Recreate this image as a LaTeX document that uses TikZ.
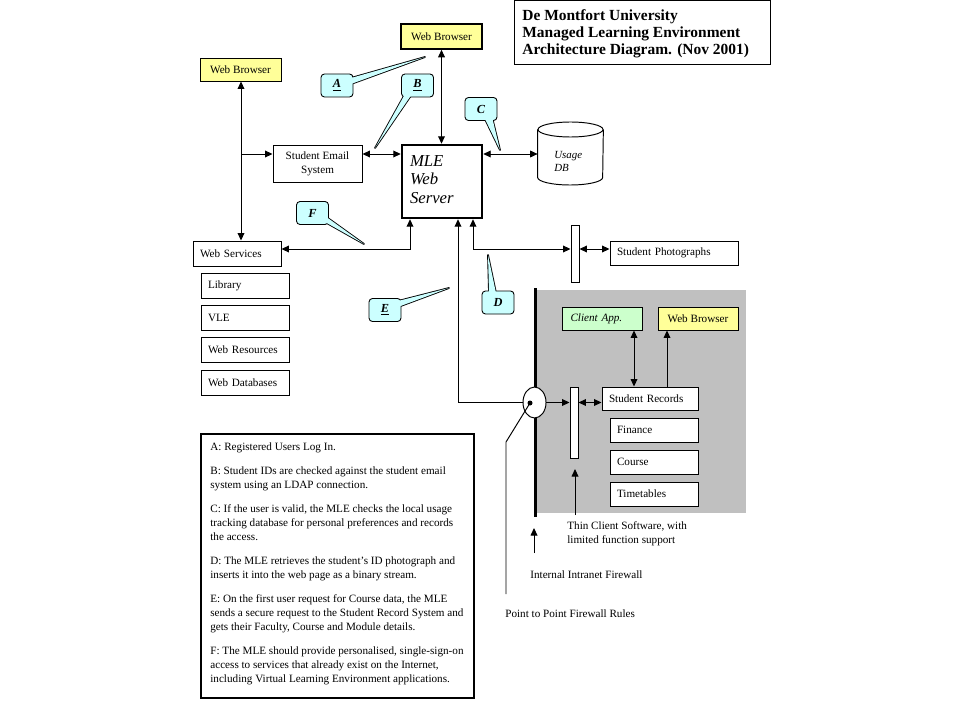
\documentclass[tikz,border=0pt]{standalone}
\usepackage{fontspec}
\setmainfont{Liberation Serif}
\usetikzlibrary{arrows.meta,shapes.geometric}
\definecolor{wbyellow}{HTML}{FFFF99}
\definecolor{callcyan}{HTML}{CCFFFF}
\definecolor{appgreen}{HTML}{CCFFCC}
\definecolor{graybg}{HTML}{C0C0C0}
\begin{document}
\begin{tikzpicture}[x=0.2mm,y=-0.2mm,
  >={Triangle[length=1.5mm,width=1.35mm]},
  every node/.style={font=\fontsize{6.35}{7.9}\selectfont},
  conn/.style={line width=0.55pt},
  box/.style={draw, line width=0.55pt, fill=white, inner sep=0pt, align=center},
  lbox/.style={box, align=left, inner xsep=1.4mm},
  browser/.style={box, fill=wbyellow, minimum width=16.2mm},
  callout/.style={draw, line width=0.5pt, fill=callcyan, rounded corners=0.7mm,
     minimum width=6.4mm, minimum height=4.6mm, inner sep=0pt,
     font=\fontsize{7}{8}\selectfont\bfseries\itshape},
  tailline/.style={draw, line width=1pt, line join=round},
  tailfill/.style={fill=callcyan},
  plain/.style={inner sep=0pt, anchor=west, align=left}
]
\useasboundingbox (0,0) rectangle (960,720);
\fill[white] (0,0) rectangle (960,720);

% ---------- title ----------
\node[draw, line width=0.55pt, minimum width=51.2mm, minimum height=12.8mm, inner sep=0pt]
  (title) at (642,32.5) {};
\node[plain, font=\fontsize{8.8}{9.7}\selectfont\bfseries] (titletext) at (522,33.5)
  {De Montfort University\\Managed Learning Environment\\Architecture Diagram. (Nov 2001)};

% ---------- gray intranet area ----------
\fill[graybg] (537,290) rectangle (746,513);

% ---------- main boxes ----------
\node[browser, line width=0.9pt, minimum height=5mm] (wbTop) at (441.5,36.5) {Web Browser};
\node[browser, minimum height=4.6mm] (wbLeft) at (240.5,69.5) {Web Browser};
\node[box, minimum width=17.8mm, minimum height=7.4mm] (email) at (317.5,163.5) {Student Email\\System};
\node[box, line width=1.4pt, minimum width=16mm, minimum height=14.6mm, text width=12.8mm,
  inner xsep=1.6mm, align=left, font=\fontsize{9.5}{10.6}\selectfont\itshape]
  (mle) at (442,181.5) {MLE\\Web\\Server\vspace{0.8mm}};

% Usage DB cylinder
\node[minimum width=13mm, minimum height=12.6mm, inner sep=0pt] (db) at (570.5,153.5) {};
\draw[line width=0.55pt, fill=white] (db.west |- 0,129.5) -- (db.west |- 0,177.5)
   arc[start angle=180, end angle=360, x radius=6.5mm, y radius=1.5mm] -- (db.east |- 0,129.5);
\draw[line width=0.55pt, fill=white] (db.north |- 0,129.5) ellipse [x radius=6.5mm, y radius=1.5mm];
\node[plain, font=\fontsize{6.2}{7.4}\selectfont\itshape] (dbtext) at (554,161) {Usage\\DB};

% web services column
\node[lbox, minimum width=17.6mm, minimum height=5mm, text width=14.8mm] (wserv) at (237,253.5) {Web Services};
\node[lbox, minimum width=17.6mm, minimum height=5mm, text width=14.8mm] (lib) at (245,285.5) {Library};
\node[lbox, minimum width=17.6mm, minimum height=5mm, text width=14.8mm] (vle) at (245,318) {VLE};
\node[lbox, minimum width=17.6mm, minimum height=5mm, text width=14.8mm] (wres) at (245,350) {Web Resources};
\node[lbox, minimum width=17.6mm, minimum height=5mm, text width=14.8mm] (wdb) at (245,382.5) {Web Databases};

% photographs
\node[box, minimum width=1.6mm, minimum height=11.4mm] (pbar) at (575,253.5) {};
\node[lbox, minimum width=25.6mm, minimum height=4.8mm, text width=22.8mm] (photos) at (674,253) {Student Photographs};

% intranet side
\draw[line width=1.7pt] (535,288) -- (535,517);
\node[draw, ellipse, line width=0.55pt, fill=white, minimum width=4.6mm, minimum height=6.2mm, inner sep=0pt]
  (fw) at (534.5,402.5) {};
\fill (530,403) circle[radius=0.5mm];
\coordinate (dot) at (530,403);

\node[lbox, fill=appgreen, minimum width=16mm, minimum height=4.6mm, text width=12.6mm,
  inner xsep=1.7mm, font=\fontsize{6.35}{7.9}\selectfont\itshape] (client) at (602,318.5) {Client App.};
\node[browser, minimum height=4.6mm, minimum width=16mm] (wbIn) at (698,318.5) {Web Browser};
\node[lbox, minimum width=19.2mm, minimum height=4.6mm, text width=16.4mm] (srec) at (650,398.5) {Student Records};
\node[box, minimum width=1.6mm, minimum height=14.2mm] (rbar) at (574,422.5) {};
\node[lbox, minimum width=17.6mm, minimum height=4.8mm, text width=14.8mm] (fin) at (654,430) {Finance};
\node[lbox, minimum width=17.6mm, minimum height=4.8mm, text width=14.8mm] (crs) at (654,462) {Course};
\node[lbox, minimum width=17.6mm, minimum height=4.8mm, text width=14.8mm] (tt) at (654,494) {Timetables};

% ---------- connector coordinates ----------
\coordinate (rowA) at (0,154);
\coordinate (rowW) at (0,249);
\coordinate (xL) at (241,0);
\coordinate (xF) at (410,0);
\coordinate (xE) at (458,0);
\coordinate (xD) at (473,0);
\coordinate (xCA) at (634,0);
\coordinate (xWB) at (667,0);
\coordinate (tcA) at (575,515);
\coordinate (tcB) at (575,469);
\coordinate (ifA) at (534,553);
\coordinate (ifB) at (534,528);
\coordinate (p2pA) at (506,442);
\coordinate (p2pB) at (506,594);

% ---------- connectors ----------
\draw[conn,<->] (wbTop.south) -- (wbTop.south |- mle.north);
\draw[conn,<->] (xL |- wbLeft.south) -- (xL |- wserv.north);
\draw[conn,->] (xL |- rowA) -- (email.west |- rowA);
\draw[conn,<->] (email.east |- rowA) -- (mle.west |- rowA);
\draw[conn,<->] (mle.east |- rowA) -- (db.west |- rowA);
\draw[conn,<->] (xF |- mle.south) |- (wserv.east |- rowW);
\draw[conn,->] (fw.west) -| (xE |- mle.south);
\draw[conn,<->] (xD |- mle.south) |- (pbar.west |- rowW);
\draw[conn,<->] (pbar.east |- rowW) -- (photos.west |- rowW);
\draw[conn,->] (fw.east) -- (rbar.west |- fw.east);
\draw[conn,<->] (rbar.east |- fw.east) -- (srec.west |- fw.east);
\draw[conn,<->] (xCA |- client.south) -- (xCA |- srec.north);
\draw[conn,->] (xWB |- srec.north) -- (xWB |- wbIn.south);
\draw[conn,->] (tcA) -- (tcB);
\draw[conn,->] (ifA) -- (ifB);
\draw[conn] (dot) -- (p2pA) -- (p2pB);

% ---------- labels ----------
\node[plain] (tclabel) at (567,534) {Thin Client Software, with\\limited function support};
\node[plain] (iflabel) at (530,575) {Internal Intranet Firewall};
\node[plain] (p2plabel) at (505,614) {Point to Point Firewall Rules};

% ---------- callouts ----------
\path[tailline] (351,78) -- (425,57) -- (351,84) -- cycle;
\node[callout] (cA) at (337,85.5) {\underline{A}};
\path[tailfill] (351,78) -- (425,57) -- (351,84) -- cycle;

\path[tailline] (405,94) -- (375,148) -- (412,94) -- cycle;
\node[callout] (cB) at (417.5,85.5) {\underline{B}};
\path[tailfill] (405,94) -- (375,148) -- (412,94) -- cycle;

\path[tailline] (484,117) -- (500,150) -- (492,117) -- cycle;
\node[callout] (cC) at (481,109) {C};
\path[tailfill] (484,117) -- (500,150) -- (492,117) -- cycle;

\path[tailline] (489,293) -- (488,255) -- (496,293) -- cycle;
\node[callout] (cD) at (498,302.5) {D};
\path[tailfill] (489,293) -- (488,255) -- (496,293) -- cycle;

\path[tailline] (398,301) -- (449,288) -- (398,307) -- cycle;
\node[callout] (cE) at (385,310) {\underline{E}};
\path[tailfill] (398,301) -- (449,288) -- (398,307) -- cycle;

\path[tailline] (325,216) -- (364,244) -- (325,222) -- cycle;
\node[callout] (cF) at (312.5,213) {F};
\path[tailfill] (325,216) -- (364,244) -- (325,222) -- cycle;

% ---------- notes ----------
\node[draw, line width=1.1pt, minimum width=54.6mm, minimum height=52.8mm, inner sep=0pt]
  (notes) at (337.5,566) {};
\node[inner sep=0pt, anchor=north west, align=left, font=\fontsize{6.35}{8.0}\selectfont]
 (notestext) at (210,442)
 {A: Registered Users Log In.\\[5.7pt]
  B: Student IDs are checked against the student email\\
  system using an LDAP connection.\\[5.7pt]
  C: If the user is valid, the MLE checks the local usage\\
  tracking database for personal preferences and records\\
  the access.\\[5.7pt]
  D: The MLE retrieves the student's ID photograph and\\
  inserts it into the web page as a binary stream.\\[5.7pt]
  E: On the first user request for Course data, the MLE\\
  sends a secure request to the Student Record System and\\
  gets their Faculty, Course and Module details.\\[5.7pt]
  F: The MLE should provide personalised, single-sign-on\\
  access to services that already exist on the Internet,\\
  including Virtual Learning Environment applications.};
\end{tikzpicture}
\end{document}
